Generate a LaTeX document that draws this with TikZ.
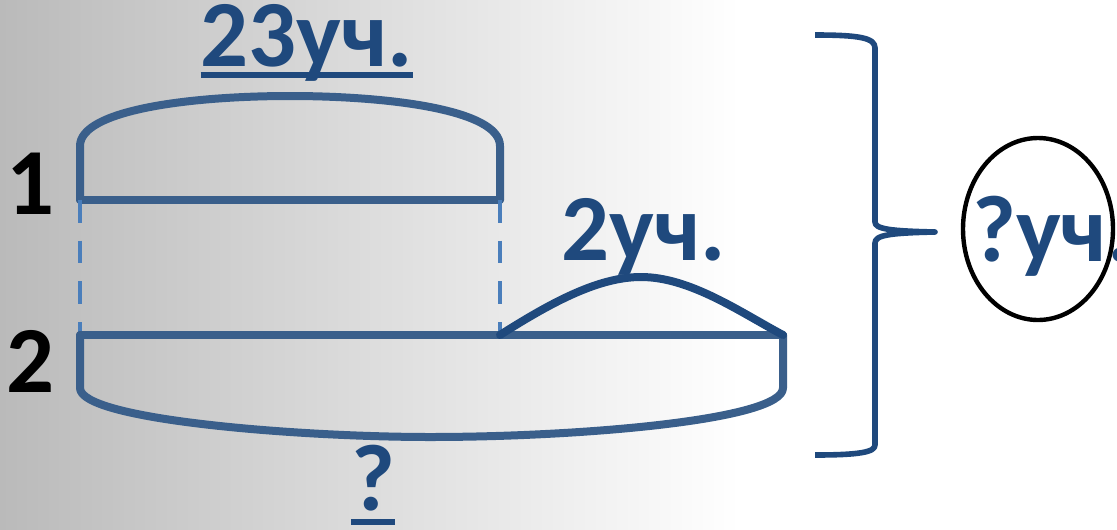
\documentclass[tikz,border=0pt]{standalone}
\usepackage{fontspec}
\setmainfont{Carlito}
\usetikzlibrary{calc,shapes.geometric}
\definecolor{txtblue}{RGB}{31,73,125}
\definecolor{segblue}{RGB}{58,95,139}
\definecolor{dashblue}{RGB}{74,126,187}
\definecolor{bggray}{RGB}{186,186,186}
\begin{document}
\begin{tikzpicture}[x=0.75pt,y=-0.75pt,
  lbl/.style={inner sep=0pt, anchor=base, font=\fontsize{71}{78}\selectfont\bfseries},
  seg/.style={draw=segblue, line width=6pt, line join=round, line cap=round},
  hump/.style={draw=txtblue, line width=6pt, line cap=round},
  guide/.style={draw=dashblue, line width=3.6pt, dash pattern=on 17pt off 13.5pt},
  bracepath/.style={draw=txtblue, line width=4.2pt, line join=round},
  uline/.style={draw=txtblue, line width=4.5pt}]
\useasboundingbox (0,0) rectangle (1117,529);
\clip (0,0) rectangle (1117,529);
% background
\fill[white] (0,0) rectangle (1117,529);
\shade[left color=bggray, right color=white] (0,0) rectangle (740,529);

% coordinates
\coordinate (a1) at (80,200);
\coordinate (b1) at (500,200);
\coordinate (a2) at (80,335);
\coordinate (b2) at (500,335);
\coordinate (c2) at (783,335);

% segment 1 and its bracket
\draw[seg] (a1) -- (b1);
\draw[seg] (a1) -- (80,146) .. controls (80,110) and (190,96) .. (290,96)
  .. controls (390,96) and (500,110) .. (500,146) -- (b1);

% dashed guides
\draw[guide] (a1) -- (a2);
\draw[guide] (b1) -- (b2);

% segment 2 and its bracket
\draw[seg] (a2) -- (c2);
\draw[seg] (a2) -- (80,388) .. controls (80,420) and (300,437) .. (430,437)
  .. controls (580,437) and (783,420) .. (783,388) -- (c2);

% hump
\draw[hump] (b2) .. controls (555,300) and (600,277) .. (641,277)
  .. controls (690,277) and (740,312) .. (c2);

% brace
\draw[bracepath] (815,35) .. controls (860,35) and (875,38) .. (875,48) -- (875,222)
  .. controls (875,229) and (890,231) .. (935,232)
  .. controls (890,233) and (875,235) .. (875,243) -- (875,445)
  .. controls (875,452) and (860,455) .. (815,455);

% labels
\node[lbl, text=black] (n1) at (30,214) {1};
\node[lbl, text=black] (n2) at (30,392) {2};
\node[lbl, text=txtblue] (t23) at (307,66) {23уч.};
\draw[uline] ($(t23.base west)+(0,9)$) -- ($(t23.base east)+(0,9)$);
\node[lbl, text=txtblue] (t2) at (644,260) {2уч.};
\node[lbl, text=txtblue] (q) at (373,510) {?};
\draw[uline] ($(q.base west)+(0,12)$) -- ($(q.base east)+(0,12)$);
\node[lbl, text=txtblue, anchor=base west] (tq) at (972,261) {?уч.};
\node[draw=black, line width=3.3pt, ellipse, minimum width=112.5pt, minimum height=136.5pt, inner sep=0pt] (ell) at (1038,229) {};
\end{tikzpicture}
\end{document}
